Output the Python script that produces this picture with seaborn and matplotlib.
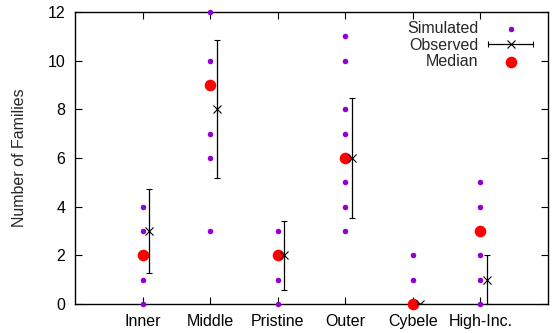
import matplotlib
matplotlib.use("Agg")
import matplotlib.pyplot as plt
from matplotlib.legend_handler import HandlerErrorbar
from matplotlib.container import ErrorbarContainer
import seaborn as sns
import pandas as pd
import numpy as np

categories = ["Inner", "Middle", "Pristine", "Outer", "Cybele", "High-Inc."]
simulated = {
    "Inner": [0, 1, 2, 3, 4],
    "Middle": [3, 6, 7, 10, 12],
    "Pristine": [0, 1, 3],
    "Outer": [3, 4, 5, 7, 8, 10, 11],
    "Cybele": [0, 1, 2],
    "High-Inc.": [0, 1, 2, 4, 5],
}
median = [2, 9, 2, 6, 0, 3]
observed = [3, 8, 2, 6, 0, 1]
observed_err = [1.73, 2.83, 1.41, 2.45, 0.0, 1.0]

sns.set_theme(style="ticks")
plt.rcParams["font.family"] = ["Liberation Sans", "DejaVu Sans"]
FS = 11.5

rows = []
for i, c in enumerate(categories):
    for v in simulated[c]:
        rows.append({"pos": i + 1, "value": v})
sim_df = pd.DataFrame(rows)
med_df = pd.DataFrame({"pos": np.arange(1, len(categories) + 1), "value": median})
obs_df = pd.DataFrame({"pos": np.arange(1, len(categories) + 1) + 0.1,
                       "value": observed, "err": observed_err})

fig = plt.figure(figsize=(5.58, 3.33), dpi=100)
ax = fig.add_axes([75 / 558, 1 - 304 / 333, (548 - 75) / 558, (304 - 12) / 333])

sns.scatterplot(data=sim_df, x="pos", y="value", ax=ax, color="#9400d3", s=16,
                linewidth=0, clip_on=False, zorder=3, legend=False)
ax.errorbar(obs_df["pos"], obs_df["value"], yerr=obs_df["err"], fmt="x",
            color="black", ecolor="black", elinewidth=0.9, capsize=2.3,
            capthick=0.9, markersize=6, mew=0.8, zorder=4)
sns.scatterplot(data=med_df, x="pos", y="value", ax=ax, color="#ff0000", s=70,
                linewidth=0, clip_on=False, zorder=3.5, legend=False)

# legend handles
h_sim = ax.scatter([], [], color="#9400d3", s=16, linewidth=0)
h_obs = ax.errorbar([np.nan], [np.nan], xerr=[1.0], fmt="x", color="black",
                    ecolor="black", elinewidth=0.9, capsize=2.3, capthick=0.9,
                    markersize=6, mew=0.8)
h_med = ax.scatter([], [], color="#ff0000", s=70, linewidth=0)

ax.set_xlim(0, 7)
ax.set_ylim(0, 12)
ax.set_xticks(np.arange(1, len(categories) + 1))
ax.set_xticklabels(categories)
ax.set_yticks(np.arange(0, 13, 2))
ax.set_xlabel("")
ax.set_ylabel("Number of Families", fontsize=FS)
ax.yaxis.set_label_coords(-0.101, 0.5)
ax.tick_params(direction="in", top=True, right=True, length=5, width=0.8,
               labelsize=FS, colors="black")
ax.tick_params(axis="x", pad=7)
ax.tick_params(axis="y", pad=7)
for s in ax.spines.values():
    s.set_linewidth(1.0)
    s.set_color("black")

leg = ax.legend([h_sim, h_obs, h_med], ["Simulated", "Observed", "Median"],
                loc="upper right", bbox_to_anchor=(533 / 558, 1 - 21 / 333),
                bbox_transform=fig.transFigure,
                frameon=False, markerfirst=False, fontsize=FS,
                handlelength=2.8, handletextpad=0.6, labelspacing=0.1,
                borderaxespad=0, borderpad=0, scatterpoints=1,
                handler_map={ErrorbarContainer: HandlerErrorbar(xerr_size=1.4)})

fig.savefig("out.png", dpi=100)
